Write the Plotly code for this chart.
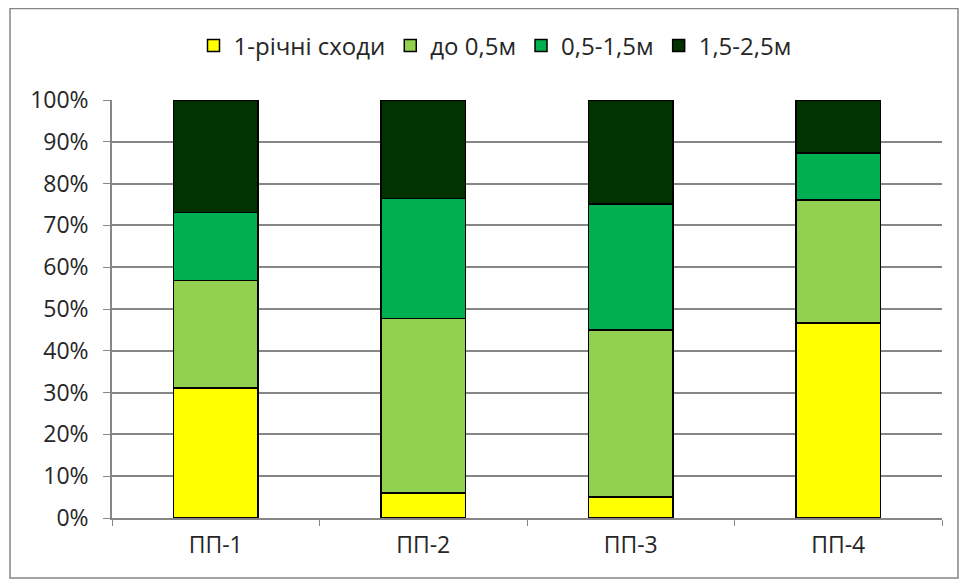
import plotly.graph_objects as go

categories = ["ПП-1", "ПП-2", "ПП-3", "ПП-4"]
series_names = ["1-річні сходи", "до 0,5м", "0,5-1,5м", "1,5-2,5м"]
seedlings = [31.1, 6.0, 5.0, 46.6]
upto_05 = [25.7, 41.7, 40.0, 29.5]
m05_15 = [16.3, 28.7, 30.1, 11.2]
m15_25 = [26.9, 23.6, 24.9, 12.7]
colors = ["#FFFF00", "#92D050", "#00B050", "#003300"]
ytick_vals = list(range(0, 101, 10))
ytick_text = [f"{v}%" for v in ytick_vals]

fig = go.Figure()
for name, vals, col in zip(series_names, [seedlings, upto_05, m05_15, m15_25], colors):
    fig.add_trace(go.Bar(
        x=categories, y=vals, name=name,
        marker=dict(color=col, line=dict(color="#000000", width=1.5)),
    ))

# page has an 8px body margin; figure sized/margined to compensate
W, H = 960, 574
ML, MR, MT, MB = 104, 26, 92, 64
PW, PH = W - ML - MR, H - MT - MB

def px(fx):
    return (fx - ML) / PW

def py(fy):
    return (H - MB - fy) / PH

font_family = "Open Sans, Noto Sans, sans-serif"
fig.update_layout(
    barmode="stack",
    barnorm="percent",
    bargap=0.595,
    width=W, height=H,
    margin=dict(l=ML, r=MR, t=MT, b=MB),
    paper_bgcolor="white",
    plot_bgcolor="white",
    font=dict(family=font_family, size=23, color="#262626"),
    legend=dict(orientation="h", x=px(487), xanchor="center", y=py(38), yanchor="middle",
                font=dict(size=24), traceorder="normal", bgcolor="rgba(0,0,0,0)"),
    xaxis=dict(showline=True, linecolor="#868686", linewidth=1.5,
               ticks="outside", tickson="boundaries", ticklen=6, tickcolor="#868686",
               tickfont=dict(size=23), ticklabelstandoff=6),
    yaxis=dict(range=[0, 100], tickvals=ytick_vals, ticktext=ytick_text,
               showgrid=True, gridcolor="#868686", gridwidth=1.5,
               showline=True, linecolor="#868686", linewidth=1.5,
               ticks="outside", ticklen=7, tickcolor="#868686",
               tickfont=dict(size=23), zeroline=False, ticklabelstandoff=10),
    shapes=[dict(type="rect", xref="paper", yref="paper",
                 x0=px(2), x1=px(950), y0=py(570), y1=py(0.5),
                 line=dict(color="#868686", width=1.5), fillcolor="rgba(0,0,0,0)")],
)

fig.write_html("out.html")
